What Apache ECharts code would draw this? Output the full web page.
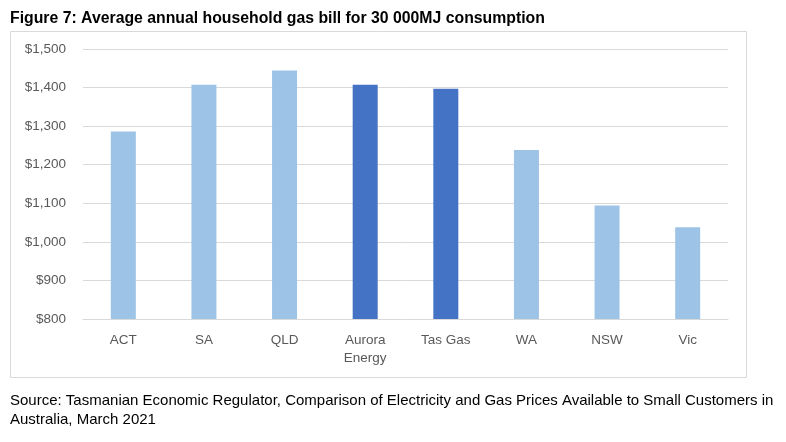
<!DOCTYPE html>
<html>
<head>
<meta charset="utf-8">
<script src="https://cdn.jsdelivr.net/npm/echarts@6/dist/echarts.min.js"></script>
<style>
  html, body { margin: 0; padding: 0; background: #fff; }
  #chart { width: 786px; height: 442px; }
</style>
</head>
<body>
<div id="chart"></div>
<script>
const categories = ['ACT', 'SA', 'QLD', 'Aurora\nEnergy', 'Tas Gas', 'WA', 'NSW', 'Vic']
const billValues = [1286, 1407, 1444, 1407, 1397, 1238, 1094, 1038]
const tasmanian = ['Aurora\nEnergy', 'Tas Gas']

const titleText = 'Figure 7: Average annual household gas bill for 30 000MJ consumption'
const sourceText = 'Source: Tasmanian Economic Regulator, Comparison of Electricity and Gas Prices Available to Small Customers in\nAustralia, March 2021'

const lightBlue = '#9DC3E6'
const darkBlue = '#4472C4'
const fontFamily = '"Liberation Sans", Arial, sans-serif'

const chart = echarts.init(document.getElementById('chart'))
chart.setOption({
  animation: false,
  textStyle: { fontFamily },
  title: {
    text: titleText,
    left: 5,
    top: 6,
    textStyle: { fontSize: 15.8, fontWeight: 'bold', color: '#000', fontFamily }
  },
  graphic: [
    {
      type: 'rect',
      shape: { x: 10.5, y: 31.5, width: 736, height: 346 },
      style: { fill: 'none', stroke: '#D9D9D9', lineWidth: 1 },
      z: -1
    },
    {
      type: 'text',
      left: 10,
      top: 391,
      style: {
        text: sourceText,
        fontSize: 15,
        lineHeight: 19,
        fill: '#000',
        fontFamily
      }
    }
  ],
  grid: {
    left: 83,
    right: 58,
    top: 49,
    bottom: 123
  },
  xAxis: {
    type: 'category',
    data: categories,
    axisLine: { lineStyle: { color: '#D9D9D9' } },
    axisTick: { show: false },
    axisLabel: {
      color: '#595959',
      fontSize: 13.5,
      margin: 12,
      lineHeight: 18
    }
  },
  yAxis: {
    type: 'value',
    min: 800,
    max: 1500,
    interval: 100,
    axisLine: { show: false },
    axisTick: { show: false },
    splitLine: { lineStyle: { color: '#D9D9D9' } },
    axisLabel: {
      color: '#595959',
      fontSize: 13.5,
      margin: 17,
      formatter: v => '$' + v.toLocaleString('en-US')
    }
  },
  series: [
    {
      type: 'bar',
      barWidth: 25,
      data: billValues.map((v, i) => ({
        value: v,
        itemStyle: { color: tasmanian.includes(categories[i]) ? darkBlue : lightBlue }
      }))
    }
  ]
})
</script>
</body>
</html>
